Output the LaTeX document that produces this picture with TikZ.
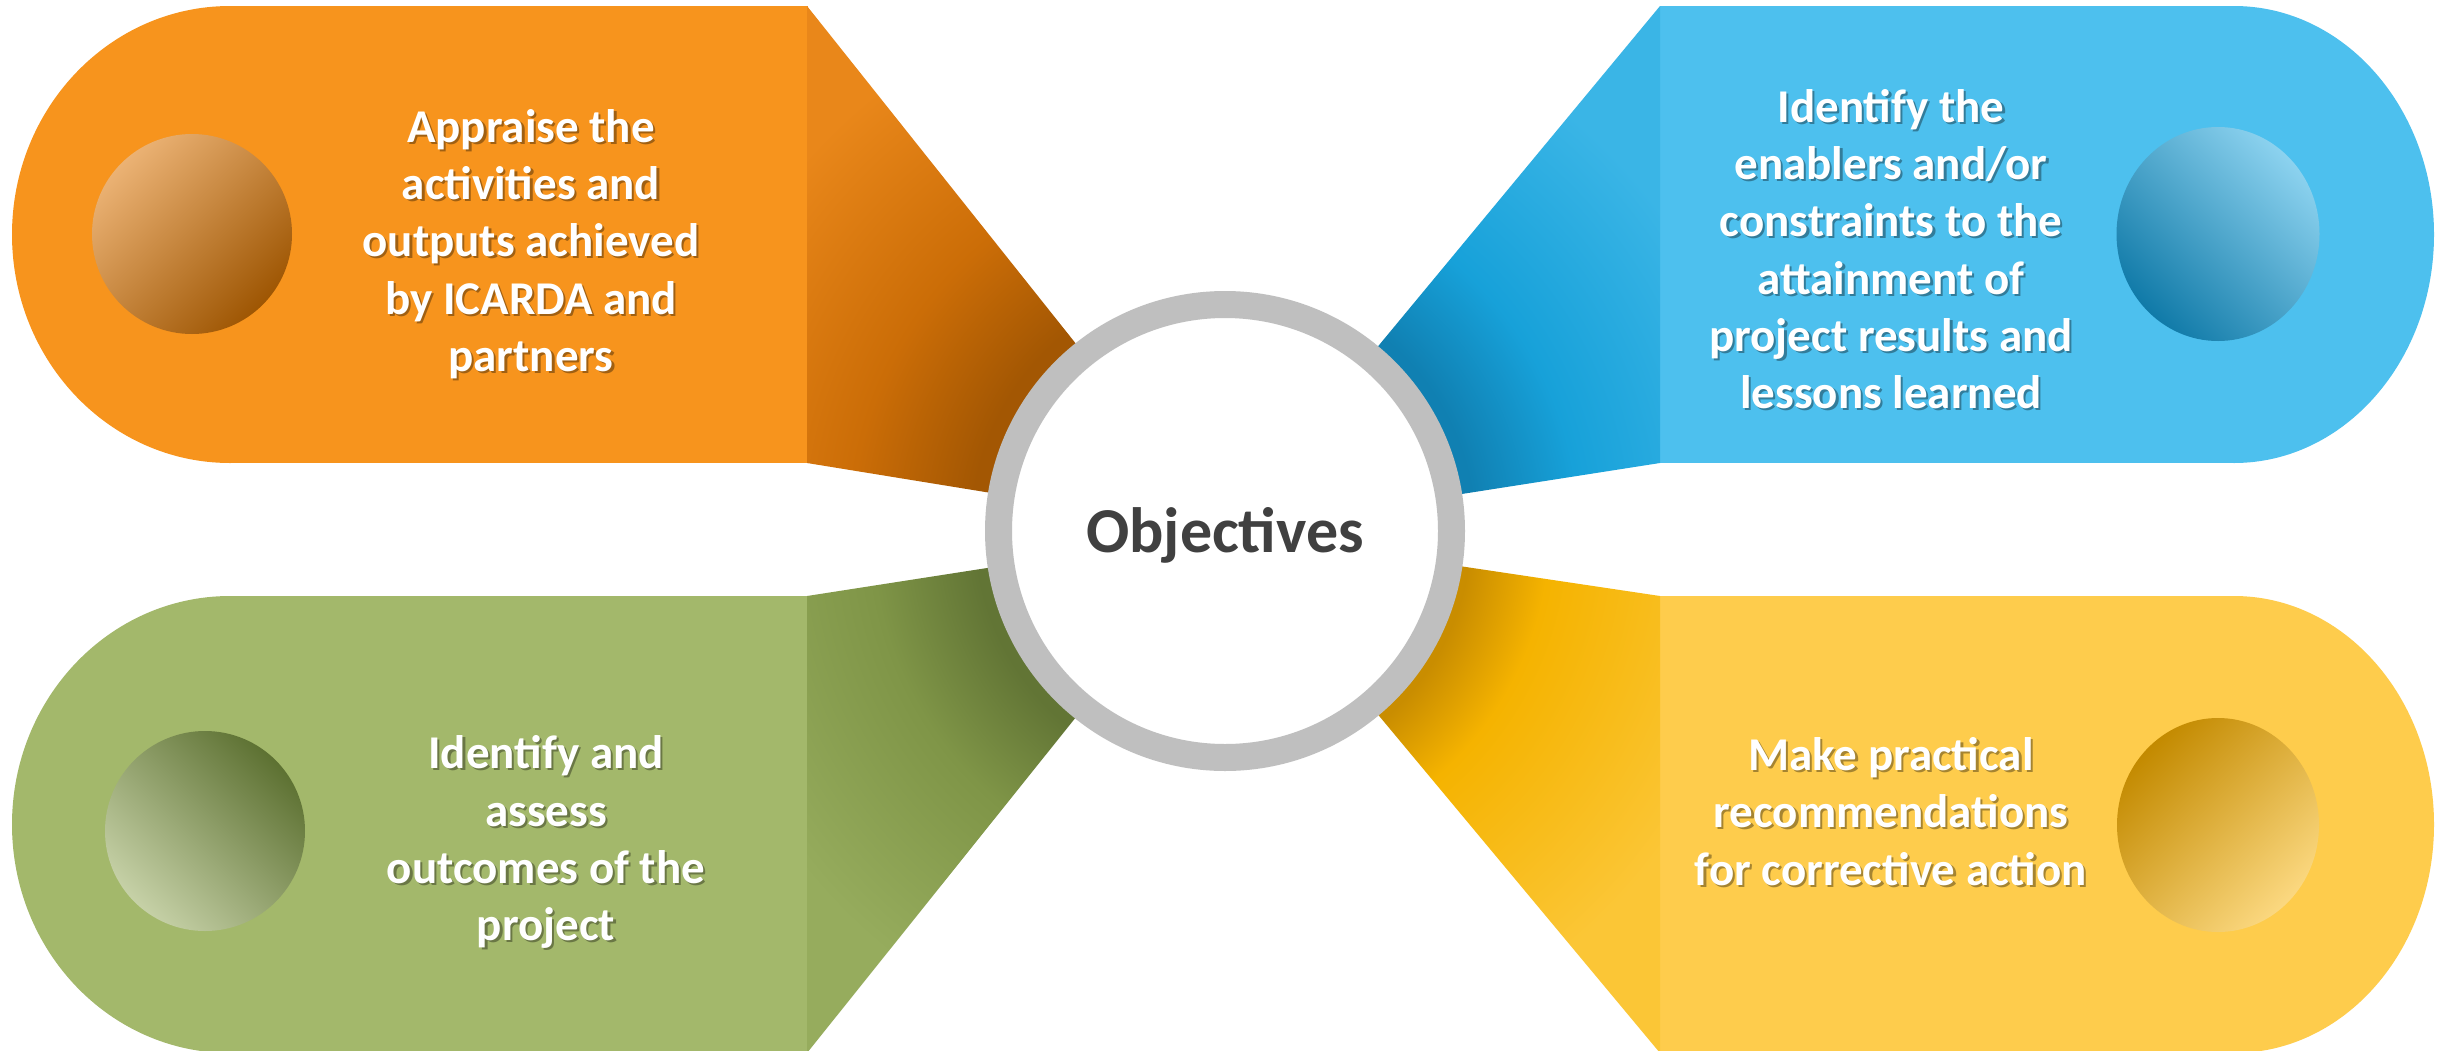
\documentclass[tikz,border=0pt]{standalone}
\usepackage{fontspec}
\setmainfont{Carlito}
\usetikzlibrary{shadings}
% main colours
\definecolor{orMain}{HTML}{F7941D}
\definecolor{blMain}{HTML}{4DC0EE}
\definecolor{grMain}{HTML}{A3B86B}
\definecolor{yeMain}{HTML}{FECC4C}
\definecolor{ringGray}{HTML}{BFBFBF}
\definecolor{objGray}{HTML}{404040}
% fan colours
\definecolor{orD}{HTML}{A35703}\definecolor{orM}{HTML}{CB6D07}\definecolor{orL}{HTML}{E9871A}
\definecolor{blD}{HTML}{1080B2}\definecolor{blM}{HTML}{17A1D9}\definecolor{blL}{HTML}{3AB5E6}
\definecolor{grD}{HTML}{627535}\definecolor{grM}{HTML}{7F9547}\definecolor{grL}{HTML}{96AC5D}
\definecolor{yeD}{HTML}{C98D00}\definecolor{yeM}{HTML}{F5B300}\definecolor{yeL}{HTML}{FBC636}
% sphere colours
\definecolor{orSL}{HTML}{EBB274}\definecolor{orSM}{HTML}{CC7005}\definecolor{orSD}{HTML}{9E5603}
\definecolor{blSL}{HTML}{8CD2EF}\definecolor{blSM}{HTML}{19A2D9}\definecolor{blSD}{HTML}{107AA8}
\definecolor{grSL}{HTML}{C6D1A7}\definecolor{grSM}{HTML}{7E9646}\definecolor{grSD}{HTML}{5D7132}
\definecolor{yeSL}{HTML}{FBD880}\definecolor{yeSM}{HTML}{F5B400}\definecolor{yeSD}{HTML}{C38A00}
\pgfdeclareradialshading{orfan}{\pgfpointorigin}{color(0bp)=(orD); color(6.1bp)=(orD); color(9bp)=(orM); color(13.5bp)=(orL); color(50bp)=(orL)}
\pgfdeclareradialshading{blfan}{\pgfpointorigin}{color(0bp)=(blD); color(6bp)=(blD); color(8.5bp)=(blM); color(13bp)=(blL); color(50bp)=(blL)}
\pgfdeclareradialshading{grfan}{\pgfpointorigin}{color(0bp)=(grD); color(6bp)=(grD); color(8.5bp)=(grM); color(13bp)=(grL); color(50bp)=(grL)}
\pgfdeclareradialshading{yefan}{\pgfpointorigin}{color(0bp)=(yeD); color(5.9bp)=(yeD); color(7.8bp)=(yeM); color(13bp)=(yeL); color(50bp)=(yeL)}
\tikzset{
  bodytxt/.style={anchor=north, inner sep=0pt, align=center, text=white,
    font=\fontsize{23.5pt}{28.65pt}\selectfont\bfseries},
  shadowtxt/.style={text=black, text opacity=0.35, xshift=1.1pt, yshift=-1.1pt},
}
\newcommand\objtxt[3]{%
  \node[bodytxt,shadowtxt] (#1s) at (#2) {#3};
  \node[bodytxt] (#1) at (#2) {#3};}
\newcommand\vs{\rule{0pt}{0.8em}}
\begin{document}
\begin{tikzpicture}[x=0.5pt,y=-0.5pt]
\useasboundingbox (0,0) rectangle (2447,1050);
\fill[white] (0,0) rectangle (2447,1050);
\clip (0,0) rectangle (2447,1050);
\coordinate (C) at (1225,531);
% ---- orange (top left)
\fill[orMain] (230,6) rectangle (807.5,463);
\fill[orMain] (230,234.5) ellipse [x radius=218, y radius=228.5];
\begin{scope}
  \clip (807,6) -- (C) -- (807,463) -- cycle;
  \shade[shading=orfan] (C) circle (520pt);
\end{scope}
% ---- blue (top right)
\fill[blMain] (1659.5,6) rectangle (2234,463);
\fill[blMain] (2234,234.5) ellipse [x radius=200, y radius=228.5];
\begin{scope}
  \clip (1660,6) -- (C) -- (1660,463) -- cycle;
  \shade[shading=blfan] (C) circle (520pt);
\end{scope}
% ---- green (bottom left)
\fill[grMain] (230,596) rectangle (807.5,1053);
\fill[grMain] (230,824.5) ellipse [x radius=218, y radius=228.5];
\begin{scope}
  \clip (807,596) -- (C) -- (807,1053) -- cycle;
  \shade[shading=grfan] (C) circle (520pt);
\end{scope}
% ---- yellow (bottom right)
\fill[yeMain] (1659.5,596) rectangle (2234,1053);
\fill[yeMain] (2234,824.5) ellipse [x radius=200, y radius=228.5];
\begin{scope}
  \clip (1660,596) -- (C) -- (1660,1053) -- cycle;
  \shade[shading=yefan] (C) circle (520pt);
\end{scope}
% ---- spheres
\shade[top color=orSL, middle color=orSM, bottom color=orSD, shading angle=45]
  (192,234) ellipse [x radius=100, y radius=100];
\shade[top color=blSL, middle color=blSM, bottom color=blSD, shading angle=-45]
  (2218,234) ellipse [x radius=101.5, y radius=107];
\shade[top color=grSD, middle color=grSM, bottom color=grSL, shading angle=-45]
  (205,831) ellipse [x radius=100, y radius=100];
\shade[top color=yeSD, middle color=yeSM, bottom color=yeSL, shading angle=45]
  (2218,825) ellipse [x radius=101, y radius=107];
% ---- centre circle
\node[circle, minimum size=226.5pt, inner sep=0pt, fill=white, draw=ringGray, line width=13.5pt] (hub) at (C) {};
\node[anchor=base, inner sep=0pt, text=objGray, font=\fontsize{32pt}{36pt}\selectfont\bfseries] (obj) at (1225,552) {Objectives};
% ---- texts
\objtxt{tOr}{531,104.1}{\vs Appraise the\\activities and\\outputs achieved\\by ICARDA and\\partners}
\objtxt{tBl}{1891,84.1}{\vs Identify the\\enablers and/or\\constraints to the\\attainment of\\project results and\\lessons learned}
\objtxt{tGr}{546,730.7}{\vs Identify and\\assess\\outcomes of the\\project}
\objtxt{tYe}{1891,732.4}{\vs Make practical\\recommendations\\for corrective action}
\end{tikzpicture}
\end{document}
